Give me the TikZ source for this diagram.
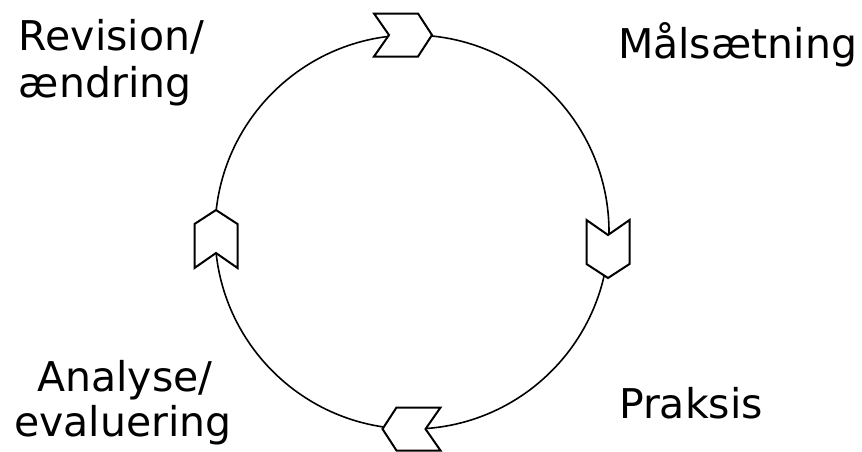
\documentclass[tikz,border=0pt]{standalone}
\usepackage{fontspec}
\setmainfont{DejaVu Sans}
\begin{document}
\begin{tikzpicture}[x=1pt,y=-1pt,
  lbl/.style={inner sep=0pt,outer sep=0pt,font=\fontsize{41}{47}\selectfont},
  chev/.style={draw=black,fill=white,line width=2pt,line join=miter}]
\useasboundingbox (0,0) rectangle (862,451);
\fill[white] (0,0) rectangle (862,451);
\draw[line width=1.6pt] (412,232) circle[radius=197];
% chevrons
\foreach \cx/\cy/\ang in {403/35/0, 608/249/-90, 411.5/429/180, 216/239/90}{
  \begin{scope}[shift={(\cx,\cy)},rotate=\ang]
    \path[chev] (-29,-21.5) -- (15,-21.5) -- (29,0) -- (15,21.5) -- (-29,21.5) -- (-14,0) -- cycle;
  \end{scope}
}
\node[lbl,anchor=base west] (rev1) at (19,50) {Revision/};
\node[lbl,anchor=base west] (rev2) at (19,97) {ændring};
\node[lbl,anchor=base west] (mal) at (618,58) {Målsætning};
\node[lbl,anchor=base] (ana1) at (125,391) {Analyse/};
\node[lbl,anchor=base] (ana2) at (123,436) {evaluering};
\node[lbl,anchor=base west] (pra) at (619,418) {Praksis};
\end{tikzpicture}
\end{document}
